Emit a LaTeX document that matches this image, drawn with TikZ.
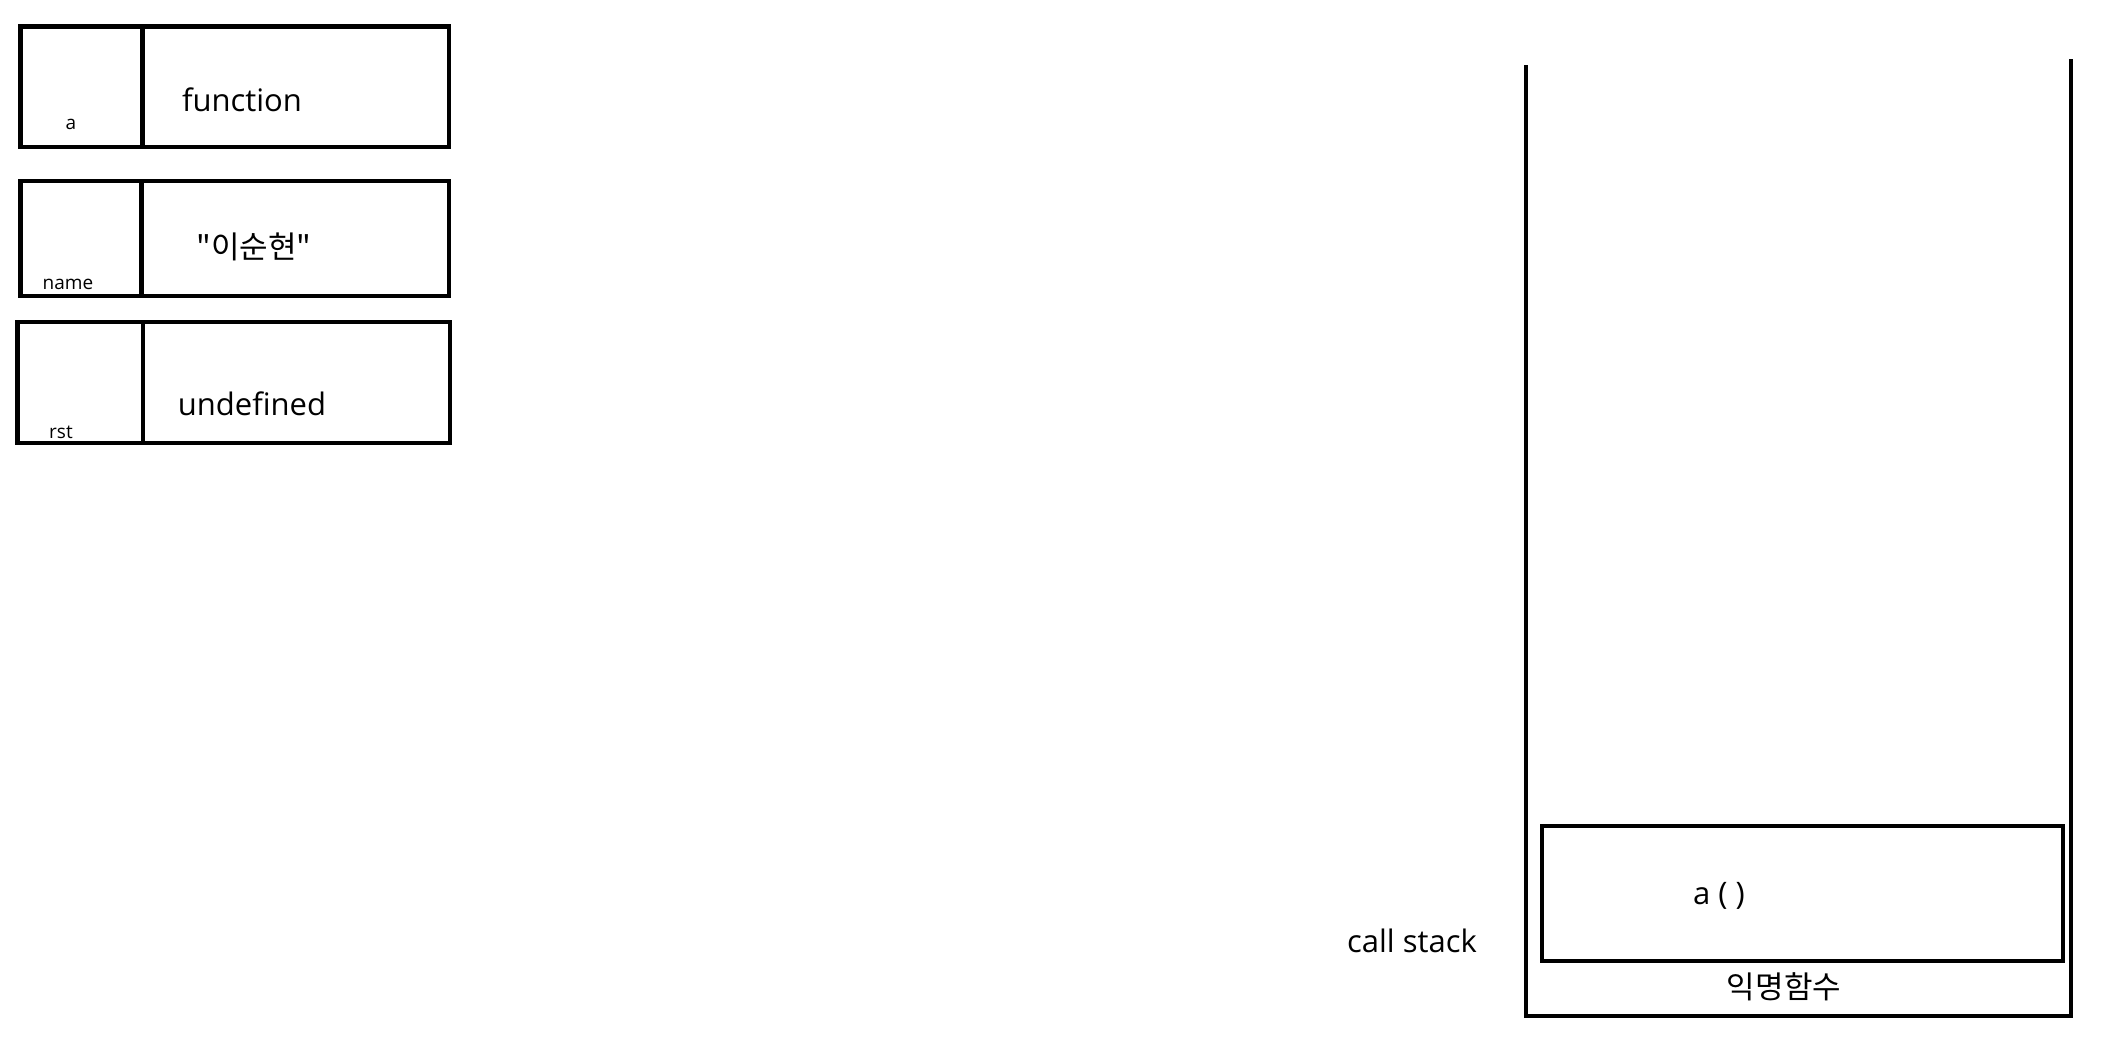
\documentclass[tikz,border=0pt]{standalone}
\usepackage{fontspec}
\setmainfont{Open Sans}
\newfontfamily\kofont{Noto Sans CJK KR}

\begin{document}
\begin{tikzpicture}[x=0.5pt,y=-0.5pt,
        cell/.style={line width=2.3pt},
        value text/.style={font=\fontsize{15.5}{18}\selectfont,inner sep=0pt},
        name text/.style={font=\fontsize{9.5}{11}\selectfont,inner sep=0pt}]
        \useasboundingbox[fill=white] (0,0) rectangle (2116,1062);
        % variable a
        \draw[cell] (20.5,26.7) rectangle (449,147);
        \draw[cell] (142.7,26.7) -- (142.7,147);
        \node[name text] (aName) at (71,124) {a};
        \node[value text] (aValue) at (242,100) {function};
        % variable name
        \draw[cell] (20.5,181) rectangle (449,296);
        \draw[cell] (141.3,181) -- (141.3,296);
        \node[name text] (nameName) at (68,284) {name};
        \node[value text] (nameValue) at (254,247) {\kofont "이순현"};
        % variable rst
        \draw[cell] (17.3,322) rectangle (450,443);
        \draw[cell] (143,322) -- (143,443);
        \node[name text] (rstName) at (61,432) {rst};
        \node[value text] (rstValue) at (252,404) {undefined};
        % call stack
        \draw[cell] (1526,65) -- (1526,1016) -- (2071,1016) -- (2071,59);
        \draw[cell] (1542,826) rectangle (2063,961);
        \node[value text] (aCall) at (1719,896) {a ( )};
        \node[value text] (anonFn) at (1784,987) {\kofont 익명함수};
        \node[value text] (stackLabel) at (1412,941) {call stack};
\end{tikzpicture}
\end{document}
